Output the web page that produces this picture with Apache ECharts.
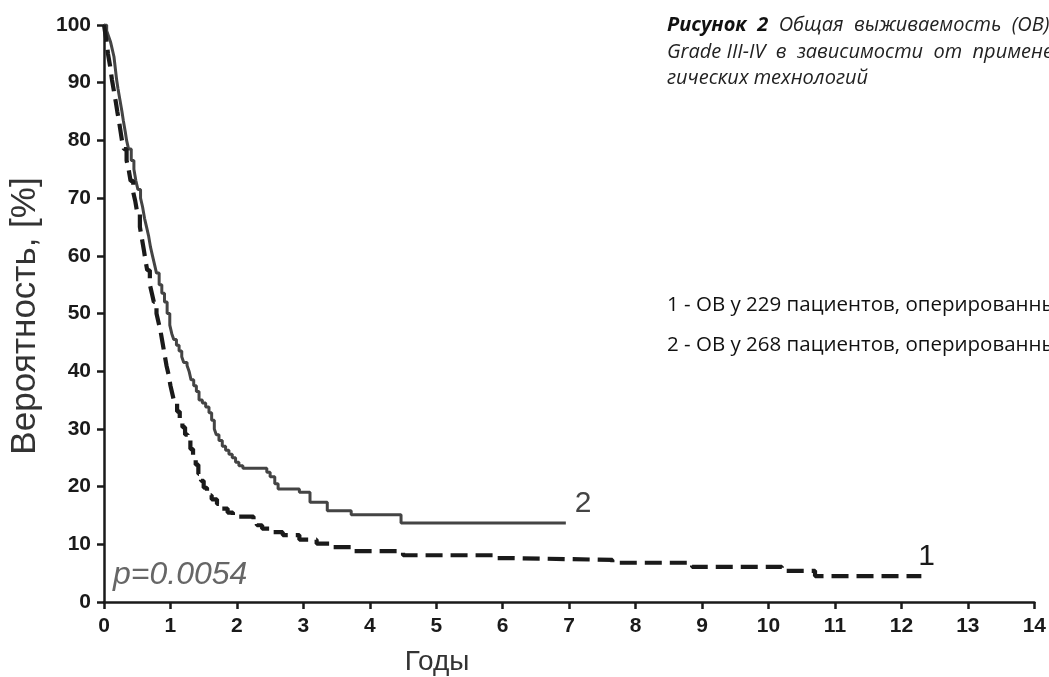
<!DOCTYPE html>
<html>
<head>
<meta charset="utf-8">
<script src="https://cdn.jsdelivr.net/npm/echarts@6/dist/echarts.min.js"></script>
<style>
  html, body {margin: 0; padding: 0; background: #fff;}
  #chart {width: 1049px; height: 677px;}
</style>
</head>
<body>
<div id="chart"></div>
<script>
// кривая 1 (пунктир) - годы / вероятность %
const years1 = [0, 0.02, 0.04, 0.06, 0.09, 0.12, 0.15, 0.18, 0.2, 0.23, 0.25, 0.27, 0.3, 0.34, 0.37, 0.4, 0.44, 0.47, 0.5, 0.54, 0.57, 0.6, 0.62, 0.65, 0.69, 0.72, 0.75, 0.79, 0.82, 0.85, 0.88, 0.91, 0.94, 0.97, 1.0, 1.03, 1.06, 1.1, 1.14, 1.18, 1.22, 1.26, 1.3, 1.34, 1.38, 1.42, 1.46, 1.5, 1.55, 1.62, 1.7, 1.78, 1.86, 1.94, 2.25, 2.3, 2.38, 2.49, 2.69, 2.94, 3.2, 3.44, 3.74, 4.5, 5.85, 6.15, 7.65, 8.85, 10.2, 10.7, 12.3];
const surv1 = [100, 98.5, 97, 95, 93, 90.5, 88.5, 86.5, 85, 83, 81.5, 80, 78.5, 76.5, 75, 73, 71, 69.5, 67.5, 65, 63, 61, 59.5, 57.5, 55, 53.5, 52, 50, 48.5, 47, 45, 43, 41, 39.5, 37.5, 36, 34.5, 33, 31.5, 30.3, 29, 28, 26.5, 25, 23.8, 22.2, 21, 19.8, 18.5, 17.8, 17, 16.2, 15.5, 14.8, 14.2, 13.3, 12.7, 12.1, 11.6, 10.8, 10.1, 9.5, 8.8, 8.1, 7.6, 7.3, 6.8, 6.1, 5.4, 4.5, 4.5];

// кривая 2 (сплошная)
const years2 = [0, 0.04, 0.07, 0.1, 0.12, 0.15, 0.17, 0.19, 0.21, 0.24, 0.27, 0.29, 0.32, 0.34, 0.37, 0.41, 0.45, 0.48, 0.51, 0.55, 0.58, 0.61, 0.64, 0.67, 0.7, 0.73, 0.76, 0.79, 0.83, 0.87, 0.91, 0.95, 0.99, 1.02, 1.05, 1.09, 1.13, 1.17, 1.2, 1.25, 1.28, 1.31, 1.35, 1.39, 1.43, 1.48, 1.53, 1.58, 1.62, 1.66, 1.69, 1.73, 1.78, 1.83, 1.88, 1.93, 1.98, 2.03, 2.09, 2.45, 2.5, 2.57, 2.62, 2.94, 3.1, 3.36, 3.72, 4.47, 6.95];
const surv2 = [100, 99, 98, 97, 96, 94.5, 92.5, 90.5, 89, 87, 85, 83.5, 81.5, 80, 78.5, 76.5, 75, 73, 71.5, 70, 68.5, 66.5, 65, 63.5, 61.5, 60, 58.5, 57, 55, 53.5, 52, 50, 48, 46.5, 45.5, 44.5, 43.5, 42.5, 41.5, 41, 40, 38.5, 37.5, 36.5, 35, 34.5, 33.8, 32.8, 31.5, 30, 29, 28, 27, 26.3, 25.6, 25, 24.2, 23.6, 23.2, 22.5, 21.7, 20.5, 19.6, 19, 17.3, 15.8, 15.1, 13.7, 13.7];

const xTicks = [0, 14, 1];   // min, max, шаг
const yTicks = [0, 100, 10];

const seriesNames = ['1', '2'];
const pText = 'p=0.0054';

function toPairs(xs, ys) {
  return xs.map((x, i) => [x, ys[i]]);
}

const chart = echarts.init(document.getElementById('chart'));

const axisFont = {
  fontFamily: 'Liberation Sans, Arial, sans-serif',
  fontSize: 21,
  fontWeight: 'bold',
  color: '#1a1a1a'
};

const option = {
  animation: false,
  grid: {left: 104, right: 13, top: 25, bottom: 75, containLabel: false},
  xAxis: {
    type: 'value',
    min: xTicks[0],
    max: xTicks[1],
    interval: xTicks[2],
    axisLine: {lineStyle: {color: '#1a1a1a', width: 2.5}},
    axisTick: {length: 7, lineStyle: {color: '#1a1a1a', width: 2.5}},
    axisLabel: Object.assign({margin: 14}, axisFont),
    splitLine: {show: false}
  },
  yAxis: {
    type: 'value',
    min: yTicks[0],
    max: yTicks[1],
    interval: yTicks[2],
    axisLine: {show: true, lineStyle: {color: '#1a1a1a', width: 2.5}},
    axisTick: {show: true, length: 7, lineStyle: {color: '#1a1a1a', width: 2.5}},
    axisLabel: Object.assign({margin: 13}, axisFont),
    splitLine: {show: false}
  },
  series: [
    {
      name: seriesNames[0],
      type: 'line',
      step: 'end',
      showSymbol: false,
      data: toPairs(years1, surv1),
      lineStyle: {color: '#1a1a1a', width: 4.2, type: [17, 8]},
      endLabel: {
        show: true,
        formatter: seriesNames[0],
        offset: [-11, -19],
        fontFamily: 'Liberation Sans, Arial, sans-serif',
        fontSize: 30,
        color: '#1a1a1a'
      },
      z: 3
    },
    {
      name: seriesNames[1],
      type: 'line',
      step: 'end',
      showSymbol: false,
      data: toPairs(years2, surv2),
      lineStyle: {color: '#444', width: 3},
      endLabel: {
        show: true,
        formatter: seriesNames[1],
        offset: [1, -19],
        fontFamily: 'Liberation Sans, Arial, sans-serif',
        fontSize: 30,
        color: '#444'
      },
      z: 2
    }
  ],
  graphic: [
    // подписи осей
    {
      type: 'text',
      x: 25, y: 316,
      rotation: Math.PI / 2,
      style: {
        text: 'Вероятность, [%]',
        fontFamily: 'Liberation Sans, Arial, sans-serif',
        fontSize: 35,
        fill: '#333',
        textAlign: 'center',
        textVerticalAlign: 'middle'
      }
    },
    {
      type: 'text',
      x: 437, y: 662,
      style: {
        text: 'Годы',
        fontFamily: 'Liberation Sans, Arial, sans-serif',
        fontSize: 28,
        fill: '#333',
        textAlign: 'center',
        textVerticalAlign: 'middle'
      }
    },
    {
      type: 'text',
      x: 113, y: 575,
      style: {
        text: pText,
        fontFamily: 'Liberation Sans, Arial, sans-serif',
        fontSize: 32,
        fontStyle: 'italic',
        fill: '#666',
        textVerticalAlign: 'middle'
      }
    },
    // текст справа (обрезан краем)
    {
      type: 'text',
      x: 667, y: 25,
      style: {
        rich: {
          b: {fontWeight: 'bold', fontStyle: 'italic', fontSize: 20, fontFamily: 'Open Sans', fill: '#111'},
          i: {fontStyle: 'italic', fontSize: 20, fontFamily: 'Open Sans', fill: '#222'}
        },
        text: '{b|Рисунок  2}{i|  Общая  выживаемость  (ОВ)}',
        textVerticalAlign: 'middle'
      }
    },
    {
      type: 'text',
      x: 667, y: 52,
      style: {
        text: 'Grade III-IV  в  зависимости  от  применения',
        fontStyle: 'italic', fontSize: 20, fontFamily: 'Open Sans', fill: '#222',
        textVerticalAlign: 'middle'
      }
    },
    {
      type: 'text',
      x: 667, y: 78,
      style: {
        text: 'гических технологий',
        fontStyle: 'italic', fontSize: 20, fontFamily: 'Open Sans', fill: '#222',
        textVerticalAlign: 'middle'
      }
    },
    {
      type: 'text',
      x: 667, y: 305,
      style: {
        text: '1 - ОВ у 229 пациентов, оперированных',
        fontSize: 20.5, fontFamily: 'Open Sans', fill: '#111',
        textVerticalAlign: 'middle'
      }
    },
    {
      type: 'text',
      x: 667, y: 345,
      style: {
        text: '2 - ОВ у 268 пациентов, оперированных',
        fontSize: 20.5, fontFamily: 'Open Sans', fill: '#111',
        textVerticalAlign: 'middle'
      }
    }
  ]
};

chart.setOption(option);
</script>
</body>
</html>
